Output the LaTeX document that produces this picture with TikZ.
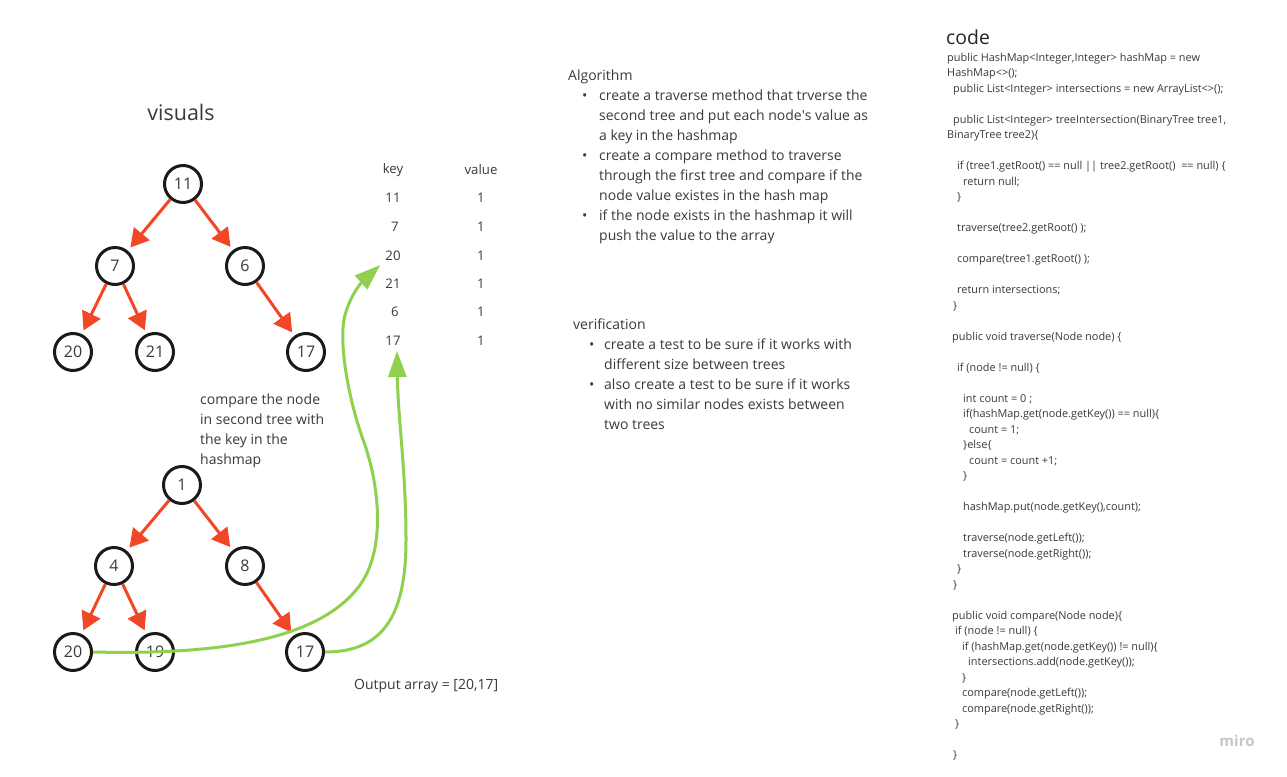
\documentclass[tikz,border=0pt]{standalone}
\usepackage{fontspec}
\setmainfont{Open Sans}
\usetikzlibrary{arrows.meta}
\definecolor{txt}{HTML}{3A3A3A}
\definecolor{miroRed}{HTML}{F24726}
\definecolor{miroGreen}{HTML}{8FD14F}
\definecolor{ringc}{HTML}{1A1A1A}
\tikzset{
  tnode/.style={circle, draw=ringc, line width=3pt, minimum size=37pt, inner sep=0pt, text=txt, font=\fontsize{16}{18}\selectfont},
  redarrow/.style={draw=miroRed, line width=3pt, shorten >=4pt, -{Triangle[length=18pt,width=20pt]}},
  greenarrow/.style={draw=miroGreen, line width=3pt, -{Triangle[length=26pt,width=18pt]}},
  bodytext/.style={text=txt, font=\fontsize{14}{20}\selectfont, inner sep=0pt, align=left},
  codetext/.style={text=txt, font=\fontsize{10.9}{15.5}\selectfont, inner sep=0pt, align=left},
  celltext/.style={text=txt, font=\fontsize{13.2}{15}\selectfont, inner sep=2pt},
}
\begin{document}
\begin{tikzpicture}[x=1pt,y=-1pt]
\path[use as bounding box, fill=white] (0,0) rectangle (1287,776);

% titles
\node[text=txt, font=\fontsize{21.5}{24}\selectfont, inner sep=0pt] (visuals) at (181,112) {visuals};
\node[text=black!85, font=\fontsize{19.4}{22}\selectfont, inner sep=0pt, anchor=west] (codetitle) at (946,37) {code};

% tree 1
\node[tnode] (a11) at (183,184) {11};
\node[tnode] (a7)  at (115,266) {7};
\node[tnode] (a6)  at (245,266) {6};
\node[tnode] (a20) at (73,352) {20};
\node[tnode] (a21) at (155,352) {21};
\node[tnode] (a17) at (306,352) {17};
\draw[redarrow] (a11) -- (a7);
\draw[redarrow] (a11) -- (a6);
\draw[redarrow] (a7) -- (a20);
\draw[redarrow] (a7) -- (a21);
\draw[redarrow] (a6) -- (a17);

% tree 2
\node[tnode] (b1)  at (182,485) {1};
\node[tnode] (b4)  at (114,566) {4};
\node[tnode] (b8)  at (245,566) {8};
\node[tnode] (b20) at (73,652) {20};
\node[tnode] (b19) at (155,652) {19};
\node[tnode] (b17) at (305,652) {17};
\draw[redarrow] (b1) -- (b4);
\draw[redarrow] (b1) -- (b8);
\draw[redarrow] (b4) -- (b20);
\draw[redarrow] (b4) -- (b19);
\draw[redarrow] (b8) -- (b17);

% comment
\node[bodytext, anchor=base west] (cmp) at (200,464) {compare the node\\in second tree with\\the key in the\\hashmap};

% table
\node[celltext] (khead) at (393,170) {key};
\node[celltext] (vhead) at (481,170) {value};
\node[celltext] (k11) at (393,198) {11};
\node[celltext] (k7)  at (395,227) {7};
\node[celltext] (k20) at (393,256) {20};
\node[celltext] (k21) at (393,284) {21};
\node[celltext] (k6)  at (395,312) {6};
\node[celltext] (k17) at (393,341) {17};
\node[celltext] (v1) at (481,198) {1};
\node[celltext] (v2) at (481,227) {1};
\node[celltext] (v3) at (481,256) {1};
\node[celltext] (v4) at (481,284) {1};
\node[celltext] (v5) at (481,312) {1};
\node[celltext] (v6) at (481,341) {1};

% green connectors
\draw[greenarrow] (b20.east) .. controls (220,655) and (320,640) .. (360,585)
  .. controls (385,550) and (380,490) .. (365,445)
  .. controls (348,400) and (338,340) .. (345,315)
  .. controls (352,290) and (366,278) .. ([shift={(-3pt,-2pt)}]k20.south west);
\draw[greenarrow] (b17.east) .. controls (380,652) and (406,620) .. (406,540)
  .. controls (406,470) and (398,420) .. ([shift={(4pt,-3pt)}]k17.south);

\node[bodytext, anchor=base west] (out) at (354,689) {Output array = [20,17]};

% algorithm
\node[bodytext, anchor=base west] (alg) at (568,240) {Algorithm\\
\hspace*{14pt}\makebox[17pt][l]{\textbullet}create a traverse method that trverse the\\
\hspace*{31pt}second tree and put each node\textquotesingle s value as\\
\hspace*{31pt}a key in the hashmap\\
\hspace*{14pt}\makebox[17pt][l]{\textbullet}create a compare method to traverse\\
\hspace*{31pt}through the first tree and compare if the\\
\hspace*{31pt}node value existes in the hash map\\
\hspace*{14pt}\makebox[17pt][l]{\textbullet}if the node exists in the hashmap it will\\
\hspace*{31pt}push the value to the array};

\node[bodytext, anchor=base west] (ver) at (573,429) {verification\\
\hspace*{16pt}\makebox[15pt][l]{\textbullet}create a test to be sure if it works with\\
\hspace*{31pt}different size between trees\\
\hspace*{16pt}\makebox[15pt][l]{\textbullet}also create a test to be sure if it works\\
\hspace*{31pt}with no similar nodes exists between\\
\hspace*{31pt}two trees};

% code
\node[codetext, anchor=base west] (code) at (947,758.5) {%
public HashMap<Integer,Integer> hashMap = new\\
HashMap<>();\\
\hspace*{6pt}public List<Integer> intersections = new ArrayList<>();\\
\mbox{}\\
\hspace*{6pt}public List<Integer> treeIntersection(BinaryTree tree1,\\
BinaryTree tree2)\{\\
\mbox{}\\
\hspace*{10pt}if (tree1.getRoot() == null || tree2.getRoot()\ \ == null) \{\\
\hspace*{16pt}return null;\\
\hspace*{10pt}\}\\
\mbox{}\\
\hspace*{10pt}traverse(tree2.getRoot() );\\
\mbox{}\\
\hspace*{10pt}compare(tree1.getRoot() );\\
\mbox{}\\
\hspace*{10pt}return intersections;\\
\hspace*{6pt}\}\\
\mbox{}\\
\hspace*{5pt}public void traverse(Node node) \{\\
\mbox{}\\
\hspace*{10pt}if (node != null) \{\\
\mbox{}\\
\hspace*{16pt}int count = 0 ;\\
\hspace*{16pt}if(hashMap.get(node.getKey()) == null)\{\\
\hspace*{22pt}count = 1;\\
\hspace*{16pt}\}else\{\\
\hspace*{22pt}count = count +1;\\
\hspace*{16pt}\}\\
\mbox{}\\
\hspace*{16pt}hashMap.put(node.getKey(),count);\\
\mbox{}\\
\hspace*{16pt}traverse(node.getLeft());\\
\hspace*{16pt}traverse(node.getRight());\\
\hspace*{10pt}\}\\
\hspace*{6pt}\}\\
\mbox{}\\
\hspace*{5pt}public void compare(Node node)\{\\
\hspace*{8pt}if (node != null) \{\\
\hspace*{15pt}if (hashMap.get(node.getKey()) != null)\{\\
\hspace*{21pt}intersections.add(node.getKey());\\
\hspace*{15pt}\}\\
\hspace*{15pt}compare(node.getLeft());\\
\hspace*{15pt}compare(node.getRight());\\
\hspace*{8pt}\}\\
\mbox{}\\
\hspace*{6pt}\}};

\node[text=black!22, font=\fontsize{15}{18}\selectfont\bfseries, inner sep=0pt] (miro) at (1237,741) {miro};
\end{tikzpicture}
\end{document}
